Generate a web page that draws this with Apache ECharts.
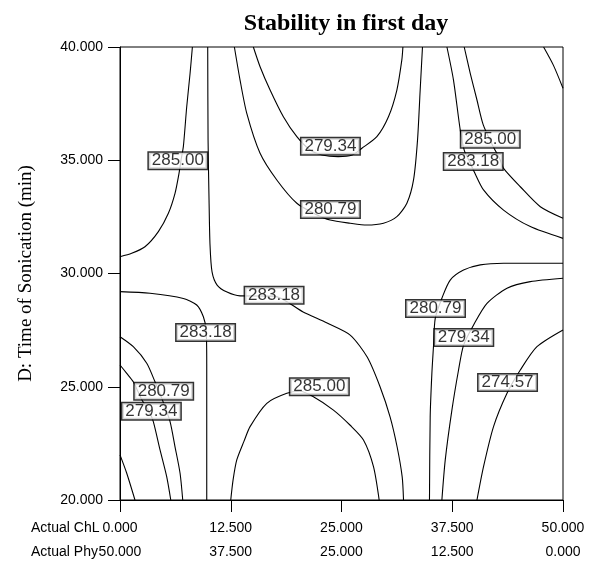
<!DOCTYPE html>
<html>
<head>
<meta charset="utf-8">
<script src="https://cdn.jsdelivr.net/npm/echarts@6/dist/echarts.min.js"></script>
<style>
  html, body { margin: 0; padding: 0; background: #fff; }
  #chart { width: 593px; height: 563px; }
</style>
</head>
<body>
<div id="chart"></div>
<script>
// Contour plot: stability response over ChL content (x) and sonication time (y)

const xTicks = [0, 12.5, 25, 37.5, 50];
const yTicks = [20, 25, 30, 35, 40];

// Contour levels
const levels = [274.57, 279.34, 280.79, 283.18, 285.00];

// Contour paths, [ChL, time] pairs
const c285TopLeft = [[8.17,40],[7.91,38.84],[7.53,37.36],[7.15,35.6],[6.89,35.01],[6.66,34.42],[6.21,33.54],[5.46,32.66],[4.33,31.85],[2.82,31.18],[1.32,30.89],[0,30.74]];
const c283Center = [[9.9,40],[9.94,35.89],[10.05,33.24],[10.16,31.26],[10.39,30.07],[10.96,29.49],[12.08,29.18],[13.55,29.01],[17.39,29.0],[20.67,28.3],[23.38,27.81],[25.98,27.28],[27.9,26.31],[29.36,24.99],[30.49,23.66],[31.28,22.34],[31.85,21.02],[32.0,20]];
const c283LowLeft = [[0,29.2],[3.39,29.13],[7.15,28.9],[8.66,28.61],[9.41,28.09],[9.72,27.5],[9.79,26.0],[9.79,24.41],[9.79,20]];
const c285Bottom = [[12.5,20],[12.76,20.88],[13.18,21.77],[14.0,22.6],[14.68,23.24],[16.57,24.27],[18.83,24.71],[20.3,24.8],[21.83,24.56],[24.09,23.97],[25.98,23.3],[27.48,22.65],[28.61,21.47],[29.25,20]];
const c280LowLeft = [[0,27.21],[1.5,26.77],[3.02,26.04],[3.95,25.22],[4.9,24.3],[5.65,23.46],[6.21,22.35],[6.78,21.18],[7.08,20]];
const c279LowLeft = [[0,25.96],[0.76,25.59],[1.5,25.22],[2.48,24.41],[3.3,23.9],[3.76,23.46],[4.52,22.21],[5.27,21.03],[5.73,20]];
const cCornerLowLeft = [[0,21.99],[0.76,21.18],[1.69,20]];
const c279Top = [[15.05,40],[15.81,39.13],[16.94,38.1],[18.44,36.92],[19.96,36.04],[21.46,35.45],[22.81,35.23],[24.62,35.16],[26.21,35.23],[27.3,35.53],[28.99,36.04],[30.3,36.92],[31.25,38.1],[31.81,39.43],[31.93,40]];
const c280Top = [[12.91,40],[13.55,38.54],[14.31,37.07],[15.81,35.31],[17.7,34.13],[19.96,33.1],[22.02,32.63],[23.72,32.36],[25.98,32.22],[27.86,32.14],[29.74,32.22],[31.25,32.51],[32.38,33.1],[33.13,34.13],[33.58,35.89],[33.88,38.1],[34.14,40]];
const c283TopRight = [[36.9,40],[37.64,38.54],[38.4,36.34],[38.85,35.45],[39.5,34.9],[39.98,34.49],[41.03,33.69],[43.29,32.8],[46.31,32.07],[50,31.55]];
const c285TopRight = [[38.85,40],[39.53,38.84],[40.29,37.66],[41.0,36.56],[42.0,35.7],[42.92,35.01],[43.29,34.64],[45.18,33.83],[47.44,32.95],[50,32.44]];
const cCornerTopRight = [[47.81,40],[48.91,39.2],[50,38.18]];
const c280Right = [[34.93,20],[35.01,23.68],[35.2,25.59],[35.38,26.77],[35.58,28.02],[36.33,28.91],[37.27,29.71],[38.77,30.15],[40.66,30.38],[43.29,30.45],[50,30.45]];
const c279Right = [[36.33,20],[36.71,21.77],[37.46,23.97],[38.21,25.74],[38.78,26.84],[39.91,27.73],[41.42,28.68],[43.68,29.35],[46.31,29.64],[50,29.79]];
const c274Right = [[40.29,20],[41.03,21.47],[42.16,23.24],[43.68,24.71],[45.18,25.74],[47.06,26.77],[50,27.51]];

const contourPaths = [
  c285TopLeft, c283Center, c283LowLeft, c285Bottom, c280LowLeft, c279LowLeft,
  cCornerLowLeft, c279Top, c280Top, c283TopRight, c285TopRight, cCornerTopRight,
  c280Right, c279Right, c274Right
];

// Level labels: [ChL, time, level]
const levelLabels = [
  [6.53, 34.98, levels[4]],
  [23.75, 35.62, levels[1]],
  [23.75, 32.83, levels[2]],
  [41.79, 35.93, levels[4]],
  [39.87, 34.94, levels[3]],
  [17.39, 29.04, levels[3]],
  [9.66, 27.40, levels[3]],
  [35.61, 28.45, levels[2]],
  [38.80, 27.17, levels[1]],
  [4.93, 24.80, levels[2]],
  [3.54, 23.92, levels[1]],
  [22.50, 25.00, levels[4]],
  [43.74, 25.19, levels[0]]
];

const sansFont = '"Liberation Sans", Arial, sans-serif';
const serifFont = '"Liberation Serif", "Times New Roman", serif';

const lineSeries = contourPaths.map(path => ({
  type: 'line',
  data: path,
  showSymbol: false,
  symbol: 'none',
  smooth: 0.25,
  lineStyle: { color: '#000', width: 1.1 },
  silent: true,
  z: 2
}));

const labelSeries = {
  type: 'scatter',
  data: levelLabels,
  symbolSize: 0,
  silent: true,
  z: 10,
  label: {
    show: true,
    position: 'inside',
    formatter: p => p.value[2].toFixed(2),
    color: '#000',
    fontFamily: sansFont,
    fontSize: 17,
    lineHeight: 16,
    backgroundColor: '#fff',
    borderColor: '#000',
    borderWidth: 1.5,
    padding: [0, 3, 0, 3]
  }
};

const chart = echarts.init(document.getElementById('chart'), null, { renderer: 'canvas' });
chart.setOption({
  animation: false,
  backgroundColor: '#fff',
  title: {
    text: 'Stability in first day',
    left: 341,
    textAlign: 'center',
    top: 7,
    textStyle: { fontFamily: serifFont, fontWeight: 'bold', fontSize: 24, color: '#000' }
  },
  grid: {
    left: 120, right: 30, top: 47, bottom: 63,
    show: true, borderColor: '#000', borderWidth: 1, backgroundColor: 'transparent'
  },
  xAxis: [
    {
      type: 'value', min: 0, max: 50, interval: 12.5, position: 'bottom',
      axisLine: { show: true, onZero: false, lineStyle: { color: '#000', width: 1 } },
      axisTick: { show: true, inside: false, length: 12, lineStyle: { color: '#000' } },
      splitLine: { show: false },
      axisLabel: {
        margin: 21, color: '#000', fontFamily: sansFont, fontSize: 14,
        formatter: v => v.toFixed(3), showMinLabel: true, showMaxLabel: true
      }
    },
    {
      type: 'value', min: 0, max: 50, interval: 12.5, position: 'bottom', inverse: true,
      offset: 24,
      axisLine: { show: false },
      axisTick: { show: false },
      splitLine: { show: false },
      axisLabel: {
        margin: 21, color: '#000', fontFamily: sansFont, fontSize: 14,
        formatter: v => v.toFixed(3), showMinLabel: true, showMaxLabel: true
      }
    }
  ],
  yAxis: {
    type: 'value', min: 20, max: 40, interval: 5,
    name: 'D: Time of Sonication (min)',
    nameLocation: 'middle',
    nameGap: 84,
    nameTextStyle: { fontFamily: serifFont, fontSize: 19, color: '#000' },
    axisLine: { show: true, onZero: false, lineStyle: { color: '#000', width: 1 } },
    axisTick: { show: true, inside: false, length: 12, lineStyle: { color: '#000' } },
    splitLine: { show: false },
    axisLabel: {
      margin: 17, color: '#000', fontFamily: sansFont, fontSize: 14,
      formatter: v => v.toFixed(3)
    }
  },
  graphic: [
    { type: 'text', left: 31, top: 521, style: { text: 'Actual ChL', font: '14px ' + sansFont, fill: '#000' } },
    { type: 'text', left: 31, top: 545, style: { text: 'Actual Phy', font: '14px ' + sansFont, fill: '#000' } }
  ],
  series: lineSeries.concat([labelSeries])
});
</script>
</body>
</html>
